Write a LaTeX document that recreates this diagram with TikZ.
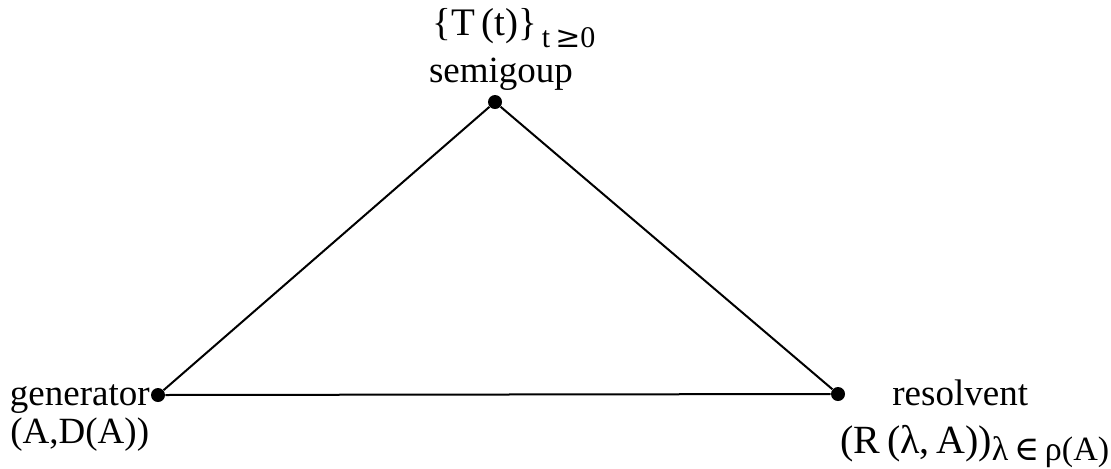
\documentclass[tikz,border=0pt]{standalone}
\usepackage{fontspec}
\setmainfont{Liberation Serif}
\newfontfamily\relfont{DejaVu Serif}
\usetikzlibrary{positioning}

\begin{document}
\begin{tikzpicture}[
  x=0.5pt, y=-0.5pt,
  font=\fontsize{18.5}{22}\selectfont,
  vertex/.style={circle, fill=black, inner sep=0pt, minimum size=7pt},
  edge/.style={line width=1pt},
  lbl/.style={inner sep=0pt, anchor=base west}
]
\useasboundingbox (0,0) rectangle (1111,468);
% --- corners of the triangle ---
\node[vertex] (sg) at (495,102) {};
\node[vertex] (gen) at (158,395) {};
\node[vertex] (res) at (838,394) {};
\draw[edge] (gen) -- (sg) -- (res) -- (gen);
% --- semigroup ---
\node[lbl] (sgfam) at (432,35) {\fontsize{19.5}{23}\selectfont\{T\,(t)\}\raisebox{-6pt}{\fontsize{15}{17}\selectfont\,t\,{\relfont≥}0}};
\node[inner sep=0pt, anchor=base] (sgname) at (501,82) {semigoup};
% --- generator ---
\node[lbl, anchor=base east] (genname) at (150,405) {generator};
\node[lbl] (gendom) at (10,443) {(A,D(A))};
% --- resolvent ---
\node[lbl] (resname) at (892,405) {resolvent};
\node[lbl] (resfam) at (840,453) {\fontsize{20}{24}\selectfont(R\,(λ,\,A))\raisebox{-3.5pt}{\fontsize{17}{19}\selectfont λ\,{\relfont∈}\,ρ(A)}};
\end{tikzpicture}
\end{document}
